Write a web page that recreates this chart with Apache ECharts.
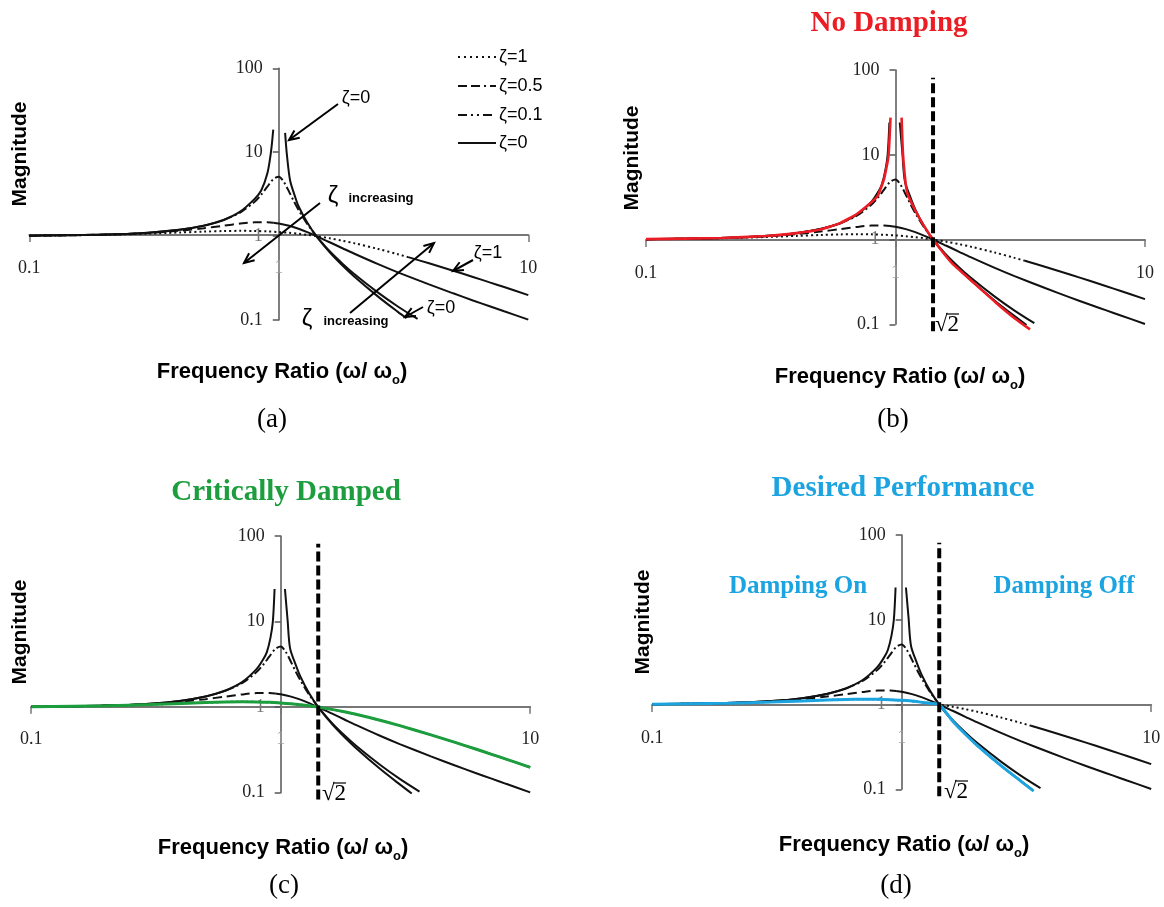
<!DOCTYPE html>
<html><head><meta charset="utf-8">
<script src="https://cdn.jsdelivr.net/npm/echarts@6/dist/echarts.min.js"></script>
<style>html,body{margin:0;padding:0;background:#fff}#c{width:1164px;height:907px}</style>
</head><body><div id="c"></div>
<script>
// ---- tick labels ----
const xTickLabels = ['0.1', '1', '10'];
const yTickLabels = ['0.1', '1', '10', '100'];

// ---- series values: [frequency ratio, magnitude] ----
const zeta1Dotted = [[0.1,1.01],[0.2,1.036],[0.3,1.07],[0.4,1.104],[0.5,1.131],[0.6,1.149],[0.7,1.155],[0.8,1.151],[0.9,1.138],[1.0,1.118],[1.1,1.094],[1.2,1.066],[1.3,1.036],[1.414,1.0],[1.6,0.942],[1.8,0.881],[2,0.825],[2.5,0.703],[3,0.608],[3.3,0.561]];
const zeta1Tail = [[3.3,0.561],[4,0.474],[5,0.387],[6,0.326],[7,0.281],[8,0.247],[10,0.198]];
const zeta05Dashed = [[0.1,1.01],[0.2,1.04],[0.3,1.09],[0.4,1.158],[0.5,1.24],[0.6,1.329],[0.7,1.409],[0.8,1.46],[0.9,1.463],[0.95,1.444]];
const zeta05Solid = [[0.95,1.444],[1.0,1.414],[1.1,1.328],[1.2,1.222],[1.3,1.114],[1.414,1.0],[1.6,0.844],[1.8,0.717],[2,0.62],[2.5,0.463],[3,0.37],[4,0.266],[5,0.208],[6,0.171],[7,0.146],[8,0.127],[10,0.101]];
const zeta01Head = [[0.1,1.01],[0.2,1.042],[0.3,1.099],[0.4,1.189],[0.5,1.328],[0.6,1.547]];
const zeta01Peak = [[0.6,1.547],[0.7,1.909],[0.8,2.571],[0.85,3.117],[0.9,3.882],[0.95,4.766],[1.0,5.099],[1.05,4.373],[1.1,3.367],[1.15,2.591],[1.2,2.052],[1.3,1.401],[1.414,1.0]];
const zeta01Tail = [[1.414,1.0],[1.6,0.659],[1.8,0.469],[2,0.356],[2.5,0.212],[3,0.145],[3.6,0.103]];
const zeta0LeftA = [[0.1,1.01],[0.2,1.042],[0.3,1.099],[0.4,1.19],[0.5,1.333],[0.6,1.563],[0.7,1.961],[0.8,2.778],[0.85,3.5],[0.9,5.6],[0.93,10],[0.95,18.6]];
const zeta0RightA = [[1.06,17],[1.077,9.5],[1.11,4.6],[1.16,3.0],[1.2,2.27],[1.3,1.449],[1.414,1.0],[1.6,0.641],[1.8,0.446],[2,0.333],[2.5,0.19],[3,0.125],[3.25,0.105]];
const zeta0LeftB = [[0.1,1.01],[0.2,1.042],[0.3,1.099],[0.4,1.19],[0.5,1.333],[0.6,1.563],[0.7,1.961],[0.8,2.778],[0.85,3.6],[0.88,4.4],[0.91,6.5],[0.93,10],[0.945,24]];
const zeta0RightB = [[1.04,24],[1.066,10.3],[1.09,4.9],[1.15,3.1],[1.2,2.27],[1.3,1.449],[1.414,1.0],[1.6,0.641],[1.8,0.446],[2,0.333],[2.5,0.19],[3,0.125],[3.35,0.098]];
const noDampLeft = [[0.1,1.01],[0.2,1.042],[0.3,1.099],[0.4,1.19],[0.5,1.31],[0.6,1.56],[0.7,2.0],[0.8,2.75],[0.85,3.3],[0.9,5.2],[0.937,9.6],[0.955,27.4]];
const noDampRight = [[1.058,27.4],[1.072,10],[1.113,3.6],[1.2,2.2],[1.3,1.45],[1.414,1.0],[1.68,0.53],[2,0.333],[2.5,0.185],[3,0.118],[3.46,0.087]];
const criticalDamped = [[0.1,1.01],[0.2,1.036],[0.3,1.07],[0.4,1.104],[0.5,1.131],[0.6,1.149],[0.7,1.155],[0.8,1.151],[0.9,1.138],[1.0,1.118],[1.1,1.094],[1.2,1.066],[1.3,1.036],[1.414,1.0],[1.6,0.942],[1.8,0.881],[2,0.825],[2.5,0.703],[3,0.608],[4,0.474],[5,0.387],[6,0.326],[7,0.281],[8,0.247],[10,0.198]];
const desiredPerf = [[0.1,1.01],[0.2,1.036],[0.3,1.07],[0.4,1.104],[0.5,1.131],[0.6,1.149],[0.7,1.155],[0.8,1.151],[0.9,1.14],[1.0,1.125],[1.1,1.1],[1.2,1.066],[1.3,1.036],[1.414,1.0],[1.6,0.64],[1.8,0.446],[2,0.333],[2.5,0.19],[3,0.125],[3.38,0.095]];
const sqrt2Line = [[1.414,0.083],[1.414,81]];

const legendLabels = ['ζ=1', 'ζ=0.5', 'ζ=0.1', 'ζ=0'];

// ---- layout ----
const panels = [
  {left:29.3, top:68.3, width:499, height:251.7, xOff:-85},
  {left:646, top:70, width:499, height:254.3, xOff:-84.3},
  {left:31.2, top:536, width:499, height:256.7, xOff:-86},
  {left:652.2, top:535, width:499, height:254.3, xOff:-84.3}
];
const SERIF = 'Liberation Serif';
const SANS = 'Liberation Sans';
const RED = '#ec1c24', GREEN = '#1c9e3e', BLUE = '#1ba4e0';

const grids = panels.map(p => ({left:p.left, top:p.top, width:p.width, height:p.height, containLabel:false, outerBoundsMode:'none'}));
const isOne = v => Math.abs(Number(v) - 1) < 1e-6;
const xAxes = panels.map((p, i) => ({
  type:'log', logBase:10, gridIndex:i, min:0.1, max:10, position:'bottom', offset:p.xOff,
  axisLine:{onZero:false, lineStyle:{color:'#777', width:2}},
  axisTick:{show:true, length:7, lineStyle:{color:'#777', width:1.5}},
  axisLabel:{margin:24, fontFamily:SERIF, fontSize:18, color:v => isOne(v) ? '#9a9a9a' : '#222',
    formatter:v => xTickLabels.find(t => Math.abs(Number(t) - v) < 1e-6) || ''},
  splitLine:{show:false}, minorTick:{show:false}
}));
const yAxes = panels.map((p, i) => ({
  type:'log', logBase:10, gridIndex:i, min:0.1, max:100, position:'left', offset:-249.5,
  axisLine:{onZero:false, lineStyle:{color:'#555', width:1.5}},
  axisTick:{show:true, length:6, lineStyle:{color:'#555', width:1.5}},
  axisLabel:{margin:16, fontFamily:SERIF, fontSize:18, color:v => isOne(v) ? '#777' : '#222',
    formatter:v => yTickLabels.find(t => Math.abs(Number(t) - v) < 1e-6) || ''},
  splitLine:{show:false}, minorTick:{show:false}
}));

function line(i, data, color, width, type, smooth) {
  return {type:'line', xAxisIndex:i, yAxisIndex:i, data:data, symbol:'none', clip:false,
    smooth: smooth === undefined ? 0.3 : smooth, animation:false, silent:true,
    lineStyle:{color:color, width:width, type:type}};
}
const DOT = [2, 3], DASH = [9, 5], DASHDOT = [9, 3, 2, 3];
const series = [];
panels.forEach((p, i) => {
  series.push(line(i, zeta1Dotted, '#111', 2, DOT));
  series.push(line(i, zeta1Tail, '#111', 2, 'solid'));
  series.push(line(i, zeta05Dashed, '#111', 2, DASH));
  series.push(line(i, zeta05Solid, '#111', 2, 'solid'));
  series.push(line(i, zeta01Head, '#111', 2, 'solid'));
  series.push(line(i, zeta01Peak, '#111', 2, DASHDOT));
  series.push(line(i, zeta01Tail, '#111', 2, 'solid'));
  series.push(line(i, i === 0 ? zeta0LeftA : zeta0LeftB, '#111', 2, 'solid'));
  series.push(line(i, i === 0 ? zeta0RightA : zeta0RightB, '#111', 2, 'solid'));
});
series.push(line(1, noDampLeft, RED, 2.6, 'solid', 0.15));
series.push(line(1, noDampRight, RED, 2.6, 'solid', 0.15));
series.push(line(2, criticalDamped, GREEN, 3, 'solid'));
series.push(line(3, desiredPerf, BLUE, 3, 'solid', 0.2));
[1, 2, 3].forEach(i => series.push(line(i, sqrt2Line, '#000', 4, [10, 4], false)));

// ---- graphics (text, legend, arrows) ----
const g = [];
function txt(x, y, text, size, opts) {
  opts = opts || {};
  g.push({type:'text', x:x, y:y, rotation:opts.rotation || 0, z:100,
    style:{text:text, fontSize:size, fontFamily:opts.family || SANS, fontWeight:opts.weight || 'normal',
      fill:opts.color || '#000', align:opts.align || 'center', verticalAlign:'middle', rich:opts.rich}});
}
function arrow(x1, y1, x2, y2) {
  const a = Math.atan2(y2 - y1, x2 - x1), L = 11, w = 0.42;
  g.push({type:'line', z:100, shape:{x1:x1, y1:y1, x2:x2, y2:y2}, style:{stroke:'#000', lineWidth:2}});
  g.push({type:'polyline', z:100, shape:{points:[[x2 - L * Math.cos(a - w), y2 - L * Math.sin(a - w)], [x2, y2], [x2 - L * Math.cos(a + w), y2 - L * Math.sin(a + w)]]},
    style:{stroke:'#000', lineWidth:2, fill:'none'}});
}
// titles
txt(889, 24, 'No Damping', 29, {family:SERIF, weight:'bold', color:RED});
txt(286, 493, 'Critically Damped', 29, {family:SERIF, weight:'bold', color:GREEN});
txt(903, 489, 'Desired Performance', 29, {family:SERIF, weight:'bold', color:BLUE});
txt(798, 587, 'Damping On', 25, {family:SERIF, weight:'bold', color:BLUE});
txt(1064, 587, 'Damping Off', 25, {family:SERIF, weight:'bold', color:BLUE});
// axis names
const magPos = [[20, 154], [632, 158], [20, 632], [643, 622]];
magPos.forEach(p => txt(p[0], p[1], 'Magnitude', 21, {weight:'bold', rotation:Math.PI / 2}));
const freqPos = [[282, 372], [900, 377], [283, 848], [904, 845]];
freqPos.forEach(p => txt(p[0], p[1], '{a|Frequency Ratio (ω/ ω}{s|o}{a|)}', 22, {weight:'bold',
  rich:{a:{fontSize:22, fontWeight:'bold', fontFamily:SANS, lineHeight:30}, s:{fontSize:13, fontWeight:'bold', fontFamily:SANS, lineHeight:14, verticalAlign:'bottom'}}}));
// panel letters
[[272, 420, '(a)'], [893, 420, '(b)'], [284, 886, '(c)'], [896, 886, '(d)']].forEach(p => txt(p[0], p[1], p[2], 27, {family:SERIF}));
// sqrt2 labels with vinculum
[[935, 325], [322, 794], [944, 792]].forEach(p => {
  txt(p[0], p[1], '√2', 23, {family:SERIF, align:'left'});
  g.push({type:'line', z:100, shape:{x1:p[0] + 11, y1:p[1] - 11, x2:p[0] + 24, y2:p[1] - 11}, style:{stroke:'#000', lineWidth:1.2}});
});
// legend (panel a)
const legRows = [57, 86, 115, 143];
const legDash = [[2, 4], [9, 4, 9, 4, 2, 4], [9, 4, 2, 4, 2, 4], null];
legRows.forEach((y, k) => {
  g.push({type:'line', z:100, shape:{x1:458, y1:y, x2:496, y2:y}, style:{stroke:'#111', lineWidth:2, lineDash:legDash[k]}});
  txt(499, y, legendLabels[k], 18, {align:'left'});
});
// annotations (panel a)
txt(356, 98, 'ζ=0', 18);
arrow(338, 104, 289, 140);
txt(333, 196, 'ζ', 24);
txt(381, 198, 'increasing', 13, {weight:'bold'});
arrow(320, 203, 244, 263);
txt(307, 319, 'ζ', 24);
txt(356, 321, 'increasing', 13, {weight:'bold'});
arrow(350, 313, 434, 243);
txt(488, 253, 'ζ=1', 18);
arrow(473, 260, 453, 271);
txt(441, 308, 'ζ=0', 18);
arrow(423, 307, 405, 317);

const chart = echarts.init(document.getElementById('c'), null, {renderer:'canvas'});
chart.setOption({
  animation:false, backgroundColor:'#fff',
  grid:grids, xAxis:xAxes, yAxis:yAxes, series:series, graphic:g
});
</script></body></html>
